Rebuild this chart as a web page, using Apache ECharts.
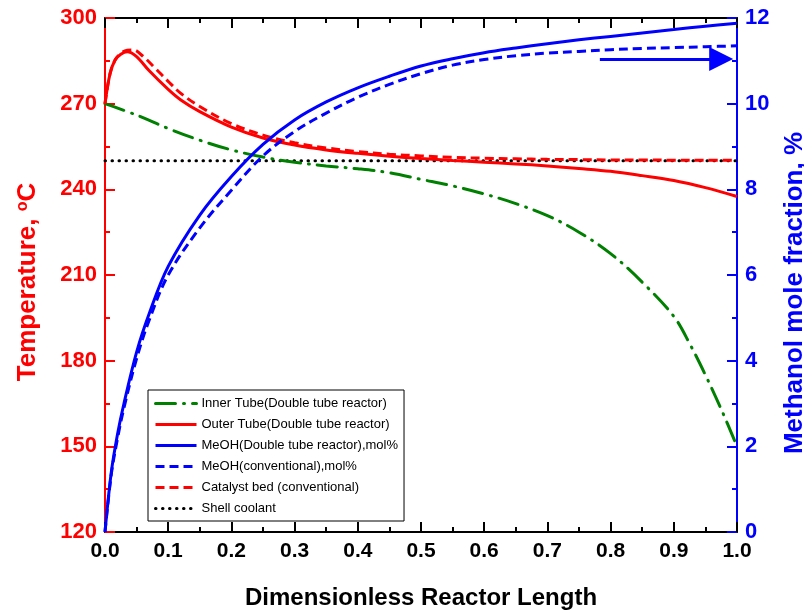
<!DOCTYPE html>
<html>
<head>
<meta charset="utf-8">
<script src="https://cdn.jsdelivr.net/npm/echarts@6/dist/echarts.min.js"></script>
<style>
html,body{margin:0;padding:0;background:#fff;}
#chart{width:804px;height:611px;}
</style>
</head>
<body>
<div id="chart"></div>
<script>
// ---- Data ----
const xInner = [0, 0.05, 0.1, 0.15, 0.2, 0.25, 0.3, 0.35, 0.4, 0.45, 0.5, 0.55, 0.6, 0.65, 0.7, 0.75, 0.8, 0.85, 0.9, 0.925, 0.95, 0.975, 1.0];
const tInner = [270, 266, 261.3, 257.2, 253.8, 251.3, 249.5, 248.2, 247.2, 245.8, 243.5, 241.2, 238.4, 235, 230.8, 225, 217.5, 207.5, 195.5, 186, 175, 163, 150];

const xOuter = [0, 0.008, 0.016, 0.025, 0.035, 0.05, 0.07, 0.1, 0.12, 0.15, 0.2, 0.25, 0.3, 0.35, 0.4, 0.45, 0.5, 0.55, 0.6, 0.65, 0.7, 0.75, 0.8, 0.85, 0.9, 0.95, 1.0];
const tOuter = [270, 280.5, 285.3, 287.3, 288.2, 286.5, 281.5, 275, 271.3, 267.2, 261.8, 258, 255.5, 253.8, 252.6, 251.6, 250.8, 250.1, 249.5, 248.9, 248.2, 247.3, 246.3, 244.8, 243.1, 240.6, 237.5];

const xMeohDT = [0, 0.01, 0.02, 0.03, 0.05, 0.07, 0.1, 0.15, 0.2, 0.25, 0.3, 0.35, 0.4, 0.45, 0.5, 0.55, 0.6, 0.65, 0.7, 0.75, 0.8, 0.85, 0.9, 0.95, 1.0];
const mMeohDT = [0, 1.4, 2.3, 3.0, 4.2, 5.1, 6.2, 7.4, 8.3, 9.05, 9.62, 10.04, 10.37, 10.64, 10.88, 11.05, 11.19, 11.3, 11.4, 11.49, 11.57, 11.65, 11.73, 11.81, 11.88];

const xMeohConv = [0, 0.01, 0.02, 0.03, 0.05, 0.07, 0.1, 0.15, 0.2, 0.25, 0.3, 0.35, 0.4, 0.45, 0.5, 0.55, 0.6, 0.65, 0.7, 0.75, 0.8, 0.85, 0.9, 0.95, 1.0];
const mMeohConv = [0, 1.35, 2.2, 2.9, 4.05, 4.95, 6.0, 7.1, 7.98, 8.78, 9.35, 9.78, 10.15, 10.45, 10.7, 10.9, 11.03, 11.12, 11.18, 11.22, 11.26, 11.29, 11.31, 11.33, 11.35];

const xCat = [0, 0.008, 0.016, 0.025, 0.035, 0.045, 0.06, 0.08, 0.1, 0.12, 0.15, 0.2, 0.25, 0.3, 0.35, 0.4, 0.45, 0.5, 0.55, 0.6, 0.65, 0.7, 0.75, 0.8, 0.85, 0.9, 0.95, 1.0];
const tCat = [270, 280.5, 285.3, 287.6, 288.7, 288.8, 286.6, 282.3, 277.8, 273.6, 269, 263, 259, 256.3, 254.5, 253.2, 252.3, 251.7, 251.2, 250.9, 250.7, 250.5, 250.4, 250.3, 250.3, 250.2, 250.2, 250.2];

const xShell = [0, 1.0];
const tShell = [250, 250];

const arrowX = [0.783, 0.975];
const arrowY = [11.04, 11.04];

const xTicks = [0, 0.1, 0.2, 0.3, 0.4, 0.5, 0.6, 0.7, 0.8, 0.9, 1.0];

const names = [
  'Inner Tube(Double tube reactor)',
  'Outer Tube(Double tube reactor)',
  'MeOH(Double tube reactor),mol%',
  'MeOH(conventional),mol%',
  'Catalyst bed (conventional)',
  'Shell coolant'
];

function zip(xs, ys) { return xs.map((x, i) => [x, ys[i]]); }

const FONT = "'Liberation Sans', Arial, sans-serif";
const RED = '#ff0000';
const BLUE = '#0000ff';
const GREEN = '#008000';
const SMOOTH = 0.35;

const chart = echarts.init(document.getElementById('chart'), null, {renderer: 'canvas'});

const option = {
  animation: false,
  backgroundColor: '#ffffff',
  textStyle: {fontFamily: FONT},
  grid: {left: 105, right: 67, top: 18, bottom: 79, containLabel: false, outerBoundsMode: 'none'},
  legend: {
    orient: 'vertical',
    left: 148,
    top: 390,
    data: names,
    itemWidth: 41,
    itemHeight: 14,
    itemGap: 8,
    padding: [7, 6, 6, 6],
    borderColor: '#000',
    borderWidth: 1,
    backgroundColor: '#fff',
    textStyle: {fontFamily: FONT, fontSize: 13, color: '#000'},
    lineStyle: {width: 3},
    itemStyle: {color: 'rgba(0,0,0,0)', borderColor: 'rgba(0,0,0,0)', borderWidth: 0, opacity: 0}
  },
  xAxis: [
    {
      type: 'value', position: 'bottom', min: 0, max: 1, interval: 0.1,
      name: 'Dimensionless Reactor Length', nameLocation: 'middle', nameGap: 54,
      nameTextStyle: {fontFamily: FONT, fontWeight: 'bold', fontSize: 24, color: '#000'},
      axisLine: {show: true, onZero: false, lineStyle: {color: '#000', width: 2}},
      axisTick: {show: true, inside: true, length: 10, lineStyle: {color: '#000', width: 2}},
      minorTick: {show: true, splitNumber: 2, length: 5, lineStyle: {color: '#000', width: 2}},
      axisLabel: {fontFamily: FONT, fontWeight: 'bold', fontSize: 21, color: '#000', margin: 9,
        formatter: v => xTicks.includes(Math.round(v * 10) / 10) ? v.toFixed(1) : ''},
      splitLine: {show: false}
    },
    {
      type: 'value', position: 'top', min: 0, max: 1, interval: 0.1,
      axisLine: {show: true, onZero: false, lineStyle: {color: '#000', width: 2}},
      axisTick: {show: true, inside: true, length: 10, lineStyle: {color: '#000', width: 2}},
      minorTick: {show: true, splitNumber: 2, length: 5, lineStyle: {color: '#000', width: 2}},
      axisLabel: {show: false},
      splitLine: {show: false}
    }
  ],
  yAxis: [
    {
      type: 'value', position: 'left', min: 120, max: 300, interval: 30,
      name: 'Temperature, {sup|o}C', nameLocation: 'middle', nameGap: 64, nameRotate: 90,
      nameTextStyle: {fontFamily: FONT, fontWeight: 'bold', fontSize: 26, color: RED, padding: [0, 14, 0, 0],
        rich: {sup: {fontFamily: FONT, fontWeight: 'bold', fontSize: 16, color: RED, verticalAlign: 'top', padding: [0, 0, 10, 0]}}},
      axisLine: {show: true, onZero: false, lineStyle: {color: RED, width: 2}},
      axisTick: {show: true, inside: true, length: 10, lineStyle: {color: RED, width: 2}},
      minorTick: {show: true, splitNumber: 2, length: 5, lineStyle: {color: RED, width: 2}},
      axisLabel: {fontFamily: FONT, fontWeight: 'bold', fontSize: 22, color: RED, margin: 8},
      splitLine: {show: false}
    },
    {
      type: 'value', position: 'right', min: 0, max: 12, interval: 2,
      name: 'Methanol mole fraction, %', nameLocation: 'middle', nameGap: 45, nameRotate: 90,
      nameTextStyle: {fontFamily: FONT, fontWeight: 'bold', fontSize: 26, color: BLUE, padding: [0, 36, 0, 0]},
      axisLine: {show: true, onZero: false, lineStyle: {color: BLUE, width: 2}},
      axisTick: {show: true, inside: true, length: 10, lineStyle: {color: BLUE, width: 2}},
      minorTick: {show: true, splitNumber: 2, length: 5, lineStyle: {color: BLUE, width: 2}},
      axisLabel: {fontFamily: FONT, fontWeight: 'bold', fontSize: 22, color: BLUE, margin: 8},
      splitLine: {show: false}
    }
  ],
  series: [
    {
      name: names[5], type: 'line', yAxisIndex: 0, data: zip(xShell, tShell),
      symbol: 'none', lineStyle: {color: '#000', width: 3, type: [0.5, 6.5], cap: 'round'},
      itemStyle: {color: '#000'}, z: 2
    },
    {
      name: names[0], type: 'line', yAxisIndex: 0, data: zip(xInner, tInner),
      symbol: 'none', smooth: SMOOTH,
      lineStyle: {color: GREEN, width: 3, type: [20, 8, 1, 8], cap: 'round'},
      itemStyle: {color: GREEN}, z: 3
    },
    {
      name: names[4], type: 'line', yAxisIndex: 0, data: zip(xCat, tCat),
      symbol: 'none', smooth: SMOOTH,
      lineStyle: {color: RED, width: 3, type: [9, 5]},
      itemStyle: {color: RED}, z: 3
    },
    {
      name: names[1], type: 'line', yAxisIndex: 0, data: zip(xOuter, tOuter),
      symbol: 'none', smooth: SMOOTH,
      lineStyle: {color: RED, width: 3, type: 'solid'},
      itemStyle: {color: RED}, z: 4
    },
    {
      name: names[3], type: 'line', yAxisIndex: 1, data: zip(xMeohConv, mMeohConv),
      symbol: 'none', smooth: SMOOTH,
      lineStyle: {color: BLUE, width: 3, type: [9, 5]},
      itemStyle: {color: BLUE}, z: 4
    },
    {
      name: names[2], type: 'line', yAxisIndex: 1, data: zip(xMeohDT, mMeohDT),
      symbol: 'none', smooth: SMOOTH,
      lineStyle: {color: BLUE, width: 3, type: 'solid'},
      itemStyle: {color: BLUE}, z: 5
    },
    {
      name: 'arrow', type: 'lines', coordinateSystem: 'cartesian2d', xAxisIndex: 0, yAxisIndex: 1,
      symbol: ['none', 'triangle'], symbolSize: [14, 24],
      lineStyle: {color: BLUE, width: 3, opacity: 1},
      data: [{coords: zip(arrowX, arrowY)}], z: 6, silent: true
    }
  ]
};
chart.setOption(option);
</script>
</body>
</html>
